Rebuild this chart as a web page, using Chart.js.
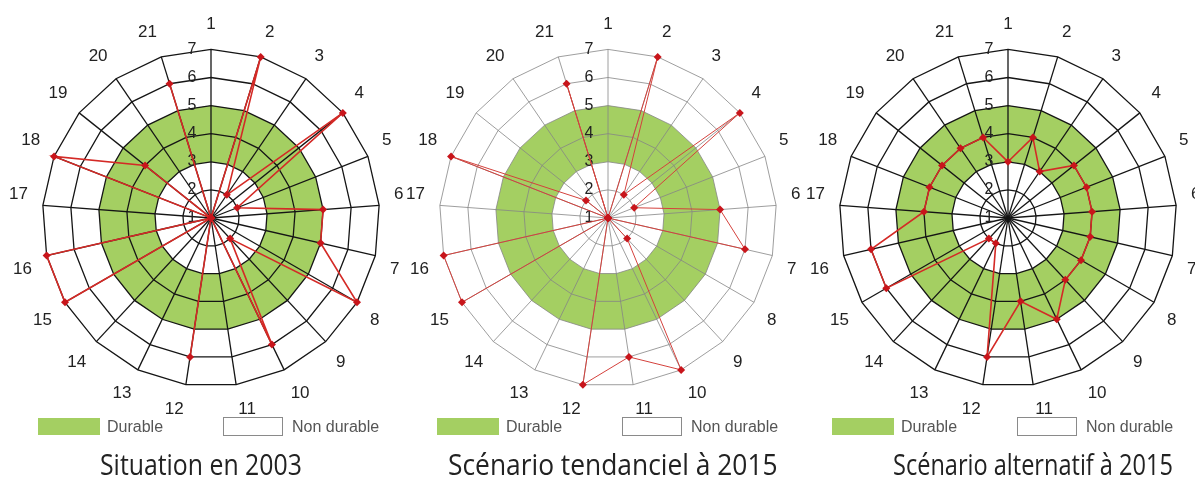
<!DOCTYPE html>
<html>
<head>
<meta charset="utf-8">
<script src="https://cdn.jsdelivr.net/npm/chart.js@4.4.1/dist/chart.umd.min.js"></script>
<style>
  body { margin: 0; background: #fff; }
  #wrap { position: relative; width: 1195px; height: 484px; overflow: hidden;
          font-family: "Liberation Sans", Arial, sans-serif; }
  canvas { position: absolute; top: 13px; }
  .green, .white { position: absolute; top: 418px; height: 17px; width: 62px; }
  .green { background: #a4cf62; }
  .white { border: 1px solid #8a8a8a; box-sizing: border-box; height: 19px; top: 417px; width: 60px; }
  .lbl { position: absolute; top: 418px; font-size: 16px; line-height: 18px; color: #555; }
  .title { position: absolute; top: 446px; font-family: "Open Sans", sans-serif; font-size: 29px;
           line-height: 36px; color: #222; white-space: nowrap; transform-origin: 0 0; }
</style>
</head>
<body>
<div id="wrap"></div>
<script>
const axisLabels = ['1','2','3','4','5','6','7','8','9','10','11','12','13','14','15','16','17','18','19','20','21'];
const tickLabels = ['1','2','3','4','5','6','7'];

// scores on each of the 21 indicators
const situation2003  = [1,7,2,7,2,5,5,7,2,6,1,6,1,1,7,7,1,7,4,1,6];
const tendanciel2015 = [1,7,2,7,2,5,6,1,2,7,6,7,1,1,7,7,1,7,2,1,6];
const alternatif2015 = [3,4,3,4,4,4,4,4,4,5,4,6,2,2,6,6,4,4,4,4,4];

// "durable" band lies between these two levels
const durableLow = 3, durableHigh = 5;
const bandLow = axisLabels.map(() => durableLow);
const bandHigh = axisLabels.map(() => durableHigh);

const titles = ['Situation en 2003', 'Scénario tendanciel à 2015', 'Scénario alternatif à 2015'];
const legendNames = ['Durable', 'Non durable'];

const centers = [211, 608, 1008];
const legendX = [0, 399, 794];
const titleX = [100, 448, 893];
const titleW = [202, 330, 280];

const tickText = {
  id: 'tickText',
  beforeDatasetsDraw(chart) {
    const r = chart.scales.r, ctx = chart.ctx;
    ctx.save();
    ctx.font = '16px "Liberation Sans", Arial, sans-serif';
    ctx.fillStyle = '#222';
    ctx.textAlign = 'center';
    ctx.textBaseline = 'middle';
    tickLabels.forEach(t => {
      const d = r.getDistanceFromCenterForValue(Number(t));
      ctx.fillText(t, r.xCenter - 19, r.yCenter - d);
    });
    ctx.restore();
  }
};

const wrap = document.getElementById('wrap');

function makeChart(i, values, look) {
  const cv = document.createElement('canvas');
  cv.width = 408; cv.height = 408;
  cv.style.left = (centers[i] - 208) + 'px';
  wrap.appendChild(cv);

  new Chart(cv, {
    type: 'radar',
    data: {
      labels: axisLabels,
      datasets: [
        {
          data: values,
          borderColor: look.line,
          borderWidth: look.lineWidth,
          pointStyle: 'rectRot',
          pointRadius: 4,
          pointBackgroundColor: '#c8151b',
          pointBorderWidth: 0,
          fill: false
        },
        { data: bandHigh, borderWidth: 0, pointRadius: 0, backgroundColor: '#a4cf62', fill: '+1' },
        { data: bandLow, borderWidth: 0, pointRadius: 0, fill: false }
      ]
    },
    options: {
      responsive: false,
      animation: false,
      events: [],
      elements: { line: { tension: 0 } },
      plugins: {
        legend: { display: false },
        tooltip: { enabled: false },
        filler: { drawTime: 'beforeDraw' }
      },
      scales: {
        r: {
          min: 1, max: 7,
          ticks: { stepSize: 1, display: false },
          grid: { color: look.grid, lineWidth: look.gridWidth },
          angleLines: { color: look.grid, lineWidth: look.gridWidth },
          pointLabels: {
            font: { size: 17, family: '"Liberation Sans", Arial, sans-serif' },
            color: '#222',
            padding: 15
          }
        }
      }
    },
    plugins: [tickText]
  });

  // legend + title
  const ox = legendX[i];
  const g = document.createElement('div'); g.className = 'green'; g.style.left = (38 + ox) + 'px'; wrap.appendChild(g);
  const t1 = document.createElement('div'); t1.className = 'lbl'; t1.style.left = (107 + ox) + 'px'; t1.textContent = legendNames[0]; wrap.appendChild(t1);
  const w = document.createElement('div'); w.className = 'white'; w.style.left = (223 + ox) + 'px'; wrap.appendChild(w);
  const t2 = document.createElement('div'); t2.className = 'lbl'; t2.style.left = (292 + ox) + 'px'; t2.textContent = legendNames[1]; wrap.appendChild(t2);

  const tt = document.createElement('div');
  tt.className = 'title';
  tt.style.left = titleX[i] + 'px';
  tt.textContent = titles[i];
  wrap.appendChild(tt);
  tt.style.transform = 'scaleX(' + (titleW[i] / tt.offsetWidth) + ')';
}

const dark = { line: '#d42a26', lineWidth: 1.6, grid: '#151515', gridWidth: 1.3 };
const light = { line: '#d4413c', lineWidth: 1, grid: '#858585', gridWidth: 0.8 };

makeChart(0, situation2003, dark);
makeChart(1, tendanciel2015, light);
makeChart(2, alternatif2015, dark);
</script>
</body>
</html>
